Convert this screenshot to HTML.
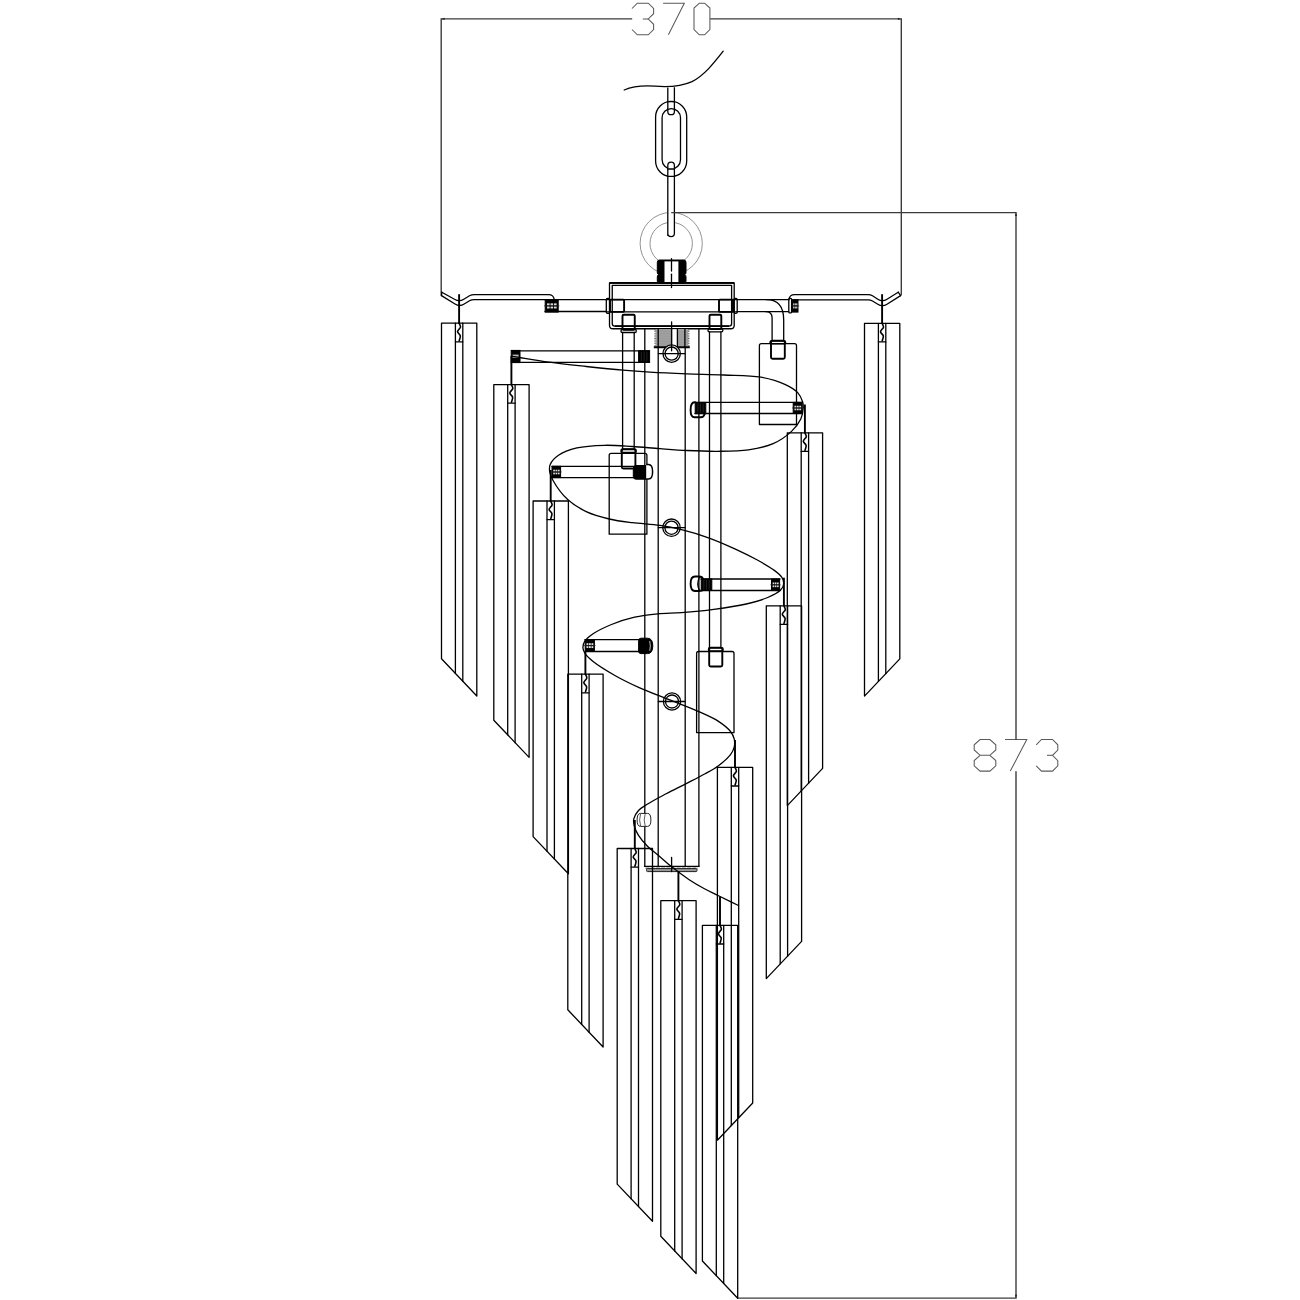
<!DOCTYPE html>
<html><head><meta charset="utf-8"><title>Chandelier drawing</title>
<style>
html,body{margin:0;padding:0;background:#fff;}
body{width:1300px;height:1300px;overflow:hidden;font-family:"Liberation Sans",sans-serif;}
svg{display:block;}
.k{fill:none;stroke:#000;stroke-width:1.3;stroke-linejoin:round;stroke-linecap:round;}
.k2{fill:none;stroke:#000;stroke-width:1.9;stroke-linecap:butt;}
.kb{fill:#000;stroke:#000;stroke-width:1;}
.d{fill:none;stroke:#3c3c3c;stroke-width:1.4;}
.z{fill:none;stroke:#000;stroke-width:1.6;stroke-linecap:round;}
.t{fill:none;stroke:#5a5a5a;stroke-width:1.05;stroke-linejoin:miter;}
.g{fill:none;stroke:#777;stroke-width:0.8;}
.g2{fill:none;stroke:#333;stroke-width:0.8;}
.gf{fill:#999;stroke:#333;stroke-width:0.8;}
.w{fill:#fff;stroke:none;}
.kw{fill:#fff;stroke:#000;stroke-width:1.3;}
</style></head><body>
<svg width="1300" height="1300" viewBox="0 0 1300 1300">
<polyline class="t" points="632,8.5 637.3,3.2 648.3,3.2 653.6,8.5 653.6,13.7 648.3,19 653.6,24.3 653.6,29.5 648.3,34.8 637.3,34.8 632,29.5"/>
<polyline class="t" points="648.3,19 642.8,19"/>
<polyline class="t" points="663.1,3.2 684.3,3.2 668.4,34.8"/>
<polygon class="t" points="699.3,3.2 704.6,3.2 709.9,8.1 709.9,29.5 704.6,34.8 699.3,34.8 694,29.5 694,8.1"/>
<polygon class="t" points="980.1,739.5 989.9,739.5 995.8,744.8 995.8,750 989.9,755.3 980.1,755.3 974.2,750 974.2,744.8"/>
<polyline class="t" points="989.9,755.3 995.8,760.6 995.8,765.8 989.9,771.1 980.1,771.1 974.2,765.8 974.2,760.6 980.1,755.3"/>
<polyline class="t" points="1005,739.5 1026.8,739.5 1010.3,771.1"/>
<polyline class="t" points="1036.2,744.8 1041.5,739.5 1052.5,739.5 1057.8,744.8 1057.8,750 1052.5,755.3 1057.8,760.6 1057.8,765.8 1052.5,771.1 1041.5,771.1 1036.2,765.8"/>
<polyline class="t" points="1052.5,755.3 1047,755.3"/>
<path class="k" d="M624.2,90 C632,86.6 643,85.4 655,86.2 C666,87.1 679,87.4 692,81.6 C704,75.6 714,63 723.2,51.2"/>
<circle class="g" cx="671.2" cy="243.5" r="31.1"/>
<circle class="g" cx="671.2" cy="243.5" r="21.2"/>
<path class="kw" d="M667.8,87.6 V111.4 A3.3,3.3 0 0 0 674.4,111.4 V87.2"/>
<rect class="k" x="655.6" y="101.4" width="31.1" height="75.1" rx="15.55"/>
<rect class="k" x="662.1" y="108.6" width="18.4" height="60.4" rx="9.2"/>
<line class="k" x1="667.8" y1="101.6" x2="674.4" y2="101.6"/>
<path class="kw" d="M667.8,236 V165.4 A3.3,3.3 0 0 1 674.4,165.4 V233.3 A3.3,3.3 0 0 1 667.8,233.3"/>
<line class="k" x1="667.8" y1="169" x2="674.4" y2="169"/>
<line class="k" x1="667.8" y1="176.4" x2="674.4" y2="176.4"/>
<path class="kb" d="M659.4,260 H684 Q686,260 686,262.5 V272.6 Q686,274.2 684.8,274.6 Q686,275.2 686,277 V281.2 Q686,283.4 683.6,283.4 H659.8 Q657.3,283.4 657.3,281.2 V277 Q657.3,275.2 658.5,274.6 Q657.3,274.2 657.3,272.6 V262.5 Q657.3,260 659.4,260 Z"/>
<rect class="w" x="664.5" y="261.4" width="13.9" height="21"/>
<line class="k" x1="671.5" y1="258.7" x2="671.5" y2="271"/>
<line class="k" x1="671.5" y1="274.2" x2="671.5" y2="287.6"/>
<polyline class="d" points="441.2,295.6 441.2,18.9 632.2,18.9"/>
<polyline class="d" points="710.2,18.9 901.3,18.9 901.3,295.2"/>
<polyline class="d" points="671.2,212.6 1016,212.6 1016,739.5"/>
<polyline class="d" points="1016,771.2 1016,1298.1 737.7,1298.1"/>
<polygon points="441.4,18.9 444.6,20 444.6,17.8" fill="#222"/>
<polygon points="901.1,18.9 897.9,17.8 897.9,20" fill="#222"/>
<polygon points="1016,212.8 1014.9,216 1017.1,216" fill="#222"/>
<polygon points="1016,1297.9 1017.1,1294.7 1014.9,1294.7" fill="#222"/>
<path class="k" d="M609.5,283 H734.2 V325.2 Q734.2,328.75 730.7,328.75 H613 Q609.5,328.75 609.5,325.2 Z"/>
<line class="k2" x1="609.5" y1="282.9" x2="734.2" y2="282.9"/>
<line class="k2" x1="614.8" y1="326.1" x2="729" y2="326.1"/>
<path class="k" d="M612.25,285.3 H731.6 V323.5 Q731.6,326.1 729,326.1 H614.8 Q612.25,326.1 612.25,323.5 Z"/>
<line class="k" x1="606.3" y1="299.6" x2="737" y2="299.6"/>
<line class="k" x1="606.3" y1="311.9" x2="737" y2="311.9"/>
<rect class="k2" x="610" y="299.6" width="14.1" height="12.3" rx="0.8"/>
<rect class="k2" x="719" y="299.6" width="14" height="12.3" rx="0.8"/>
<rect class="k" x="606.3" y="298.4" width="3.4" height="14.9" rx="1.2"/>
<rect class="k" x="734" y="298.4" width="3.2" height="14.9" rx="1.2"/>
<rect class="k2" x="622.5" y="314.75" width="12.25" height="14.95" rx="1.2"/>
<rect class="k" x="621" y="329.5" width="15.25" height="3" rx="1.2"/>
<line class="k" x1="622.6" y1="332.5" x2="622.6" y2="449.2"/>
<line class="k" x1="634.2" y1="332.5" x2="634.2" y2="449.2"/>
<rect class="k2" x="621.8" y="449.2" width="13.6" height="19.3" rx="1.5"/>
<rect class="k" x="621" y="449.2" width="15.2" height="3.2" rx="1.2"/>
<rect class="k2" x="709.5" y="314.8" width="11.8" height="14.2" rx="1.2"/>
<rect class="k" x="708" y="328.8" width="14.8" height="3" rx="1.2"/>
<line class="k" x1="709.5" y1="331.8" x2="709.5" y2="647.7"/>
<line class="k" x1="720.9" y1="331.8" x2="720.9" y2="647.7"/>
<rect class="k2" x="709.2" y="647.7" width="13.1" height="18.8" rx="1.5"/>
<rect class="k" x="708.5" y="647.7" width="14.6" height="3.2" rx="1.2"/>
<rect class="k2" x="771" y="340.8" width="13.8" height="17.9" rx="1.5"/>
<rect class="k" x="770" y="340.8" width="15.6" height="3" rx="1.2"/>
<line class="k" x1="644.8" y1="329.4" x2="644.8" y2="866.4"/>
<line class="k" x1="698.9" y1="329.4" x2="698.9" y2="866.4"/>
<line class="k" x1="658.2" y1="347.8" x2="658.2" y2="866.4"/>
<line class="k" x1="685.2" y1="347.8" x2="685.2" y2="866.4"/>
<line class="k" x1="644.5" y1="866.3" x2="699" y2="866.3"/>
<line x1="645.5" y1="868.2" x2="698" y2="868.2" stroke="#333" stroke-width="1" stroke-dasharray="4,1.2"/>
<rect x="646.5" y="868.6" width="50.5" height="3" rx="1" fill="#999" stroke="#222" stroke-width="1"/>
<line class="k" x1="671.6" y1="857.5" x2="671.6" y2="871.5"/>
<rect x="655.6" y="329.4" width="32.6" height="17.8" fill="#c4c4c4" stroke="none"/>
<line x1="655.6" y1="329.8" x2="688.2" y2="330.3" stroke="#7a7a7a" stroke-width="0.45"/>
<line x1="655.6" y1="330.52" x2="688.2" y2="331.02" stroke="#7a7a7a" stroke-width="0.45"/>
<line x1="655.6" y1="331.24" x2="688.2" y2="331.74" stroke="#7a7a7a" stroke-width="0.45"/>
<line x1="655.6" y1="331.96" x2="688.2" y2="332.46" stroke="#7a7a7a" stroke-width="0.45"/>
<line x1="655.6" y1="332.68" x2="688.2" y2="333.18" stroke="#7a7a7a" stroke-width="0.45"/>
<line x1="655.6" y1="333.4" x2="688.2" y2="333.9" stroke="#7a7a7a" stroke-width="0.45"/>
<line x1="655.6" y1="334.12" x2="688.2" y2="334.62" stroke="#7a7a7a" stroke-width="0.45"/>
<line x1="655.6" y1="334.84" x2="688.2" y2="335.34" stroke="#7a7a7a" stroke-width="0.45"/>
<line x1="655.6" y1="335.56" x2="688.2" y2="336.06" stroke="#7a7a7a" stroke-width="0.45"/>
<line x1="655.6" y1="336.28" x2="688.2" y2="336.78" stroke="#7a7a7a" stroke-width="0.45"/>
<line x1="655.6" y1="337" x2="688.2" y2="337.5" stroke="#7a7a7a" stroke-width="0.45"/>
<line x1="655.6" y1="337.72" x2="688.2" y2="338.22" stroke="#7a7a7a" stroke-width="0.45"/>
<line x1="655.6" y1="338.44" x2="688.2" y2="338.94" stroke="#7a7a7a" stroke-width="0.45"/>
<line x1="655.6" y1="339.16" x2="688.2" y2="339.66" stroke="#7a7a7a" stroke-width="0.45"/>
<line x1="655.6" y1="339.88" x2="688.2" y2="340.38" stroke="#7a7a7a" stroke-width="0.45"/>
<line x1="655.6" y1="340.6" x2="688.2" y2="341.1" stroke="#7a7a7a" stroke-width="0.45"/>
<line x1="655.6" y1="341.32" x2="688.2" y2="341.82" stroke="#7a7a7a" stroke-width="0.45"/>
<line x1="655.6" y1="342.04" x2="688.2" y2="342.54" stroke="#7a7a7a" stroke-width="0.45"/>
<line x1="655.6" y1="342.76" x2="688.2" y2="343.26" stroke="#7a7a7a" stroke-width="0.45"/>
<line x1="655.6" y1="343.48" x2="688.2" y2="343.98" stroke="#7a7a7a" stroke-width="0.45"/>
<line x1="655.6" y1="344.2" x2="688.2" y2="344.7" stroke="#7a7a7a" stroke-width="0.45"/>
<line x1="655.6" y1="344.92" x2="688.2" y2="345.42" stroke="#7a7a7a" stroke-width="0.45"/>
<line x1="655.6" y1="345.64" x2="688.2" y2="346.14" stroke="#7a7a7a" stroke-width="0.45"/>
<line x1="655.6" y1="346.36" x2="688.2" y2="346.86" stroke="#7a7a7a" stroke-width="0.45"/>
<rect class="w" x="672.3" y="329.4" width="4.8" height="17.6"/>
<line x1="655" y1="329.6" x2="655" y2="347.2" stroke="#444" stroke-width="1.2" stroke-dasharray="0.8,0.9"/>
<line x1="688.8" y1="329.6" x2="688.8" y2="347.2" stroke="#444" stroke-width="1.2" stroke-dasharray="0.8,0.9"/>
<line class="k" x1="658.2" y1="329.4" x2="658.2" y2="347.6"/>
<line class="k" x1="684.9" y1="329.4" x2="684.9" y2="347.6"/>
<line class="k" x1="677.4" y1="329.4" x2="677.4" y2="347.6"/>
<line class="k2" x1="653.8" y1="347.2" x2="689.8" y2="347.2"/>
<circle cx="671.65" cy="353.6" r="8.7" fill="#fff" stroke="#000" stroke-width="1.3"/>
<circle class="k" cx="671.65" cy="353.6" r="6.6"/>
<line class="k" x1="658.4" y1="353.6" x2="685" y2="353.6"/>
<circle cx="671.5" cy="527.7" r="8.7" fill="#fff" stroke="#000" stroke-width="1.3"/>
<circle class="k" cx="671.5" cy="527.7" r="6.6"/>
<line class="k" x1="658.4" y1="527.7" x2="685" y2="527.7"/>
<circle cx="672" cy="701.5" r="8.6" fill="#fff" stroke="#000" stroke-width="1.3"/>
<circle class="k" cx="672" cy="701.5" r="6.5"/>
<line class="k" x1="658.4" y1="701.5" x2="685" y2="701.5"/>
<line class="k" x1="671.6" y1="322" x2="671.6" y2="350.8"/>
<path class="k" d="M759.4,424.5 V345.6 Q759.4,343.6 761.4,343.6 H794.5 Q796.5,343.6 796.5,345.6 V424.5 Z"/>
<path class="k" d="M609.2,534.2 V455.3 Q609.2,453.3 611.2,453.3 H644.9 Q646.9,453.3 646.9,455.3 V534.2 Z"/>
<path class="k" d="M696.6,732.6 V653.5 Q696.6,651.5 698.6,651.5 H732 Q734,651.5 734,653.5 V732.6 Z"/>
<path class="k" d="M441.8,292.2 L454.5,299.2 Q459.2,302.2 463.8,299.2 L469.5,295.8 Q471.5,294.6 474.5,294.6 H548.5 Q553.6,294.6 554.3,299.6"/>
<path class="k" d="M441.5,295.6 L455,304 Q459.6,307 464.2,304 L469.5,300.8 Q471.5,299.6 474.5,299.6 H545"/>
<line class="k" x1="441.8" y1="292.2" x2="441.5" y2="295.6"/>
<line class="k" x1="545" y1="299.7" x2="606.3" y2="299.7"/>
<line class="k" x1="545" y1="311.5" x2="606.3" y2="311.5"/>
<rect class="kb" x="545.2" y="299.6" width="13" height="12.5"/>
<rect x="547.02" y="303.35" width="2.6" height="2" fill="#ddd"/>
<rect x="547.02" y="306.48" width="2.6" height="2" fill="#ddd"/>
<rect x="550.53" y="303.35" width="2.6" height="2" fill="#ddd"/>
<rect x="550.53" y="306.48" width="2.6" height="2" fill="#ddd"/>
<rect x="554.04" y="303.35" width="2.6" height="2" fill="#ddd"/>
<rect x="554.04" y="306.48" width="2.6" height="2" fill="#ddd"/>
<line x1="544" y1="305.85" x2="559.4" y2="305.85" stroke="#222" stroke-width="0.7"/>
<path class="k" d="M788.8,299.6 Q789.5,294.6 794.6,294.6 H868 Q870.5,294.6 872.5,295.8 L877.8,299.2 Q882.4,302.2 887,299.2 L898.2,292.2"/>
<path class="k" d="M797.9,299.8 H868.3 Q870.5,299.8 872.5,301 L877.8,304.2 Q882.4,307.2 887,304.2 L900.6,295.6"/>
<line class="k" x1="898.2" y1="292.2" x2="900.6" y2="295.6"/>
<line class="k" x1="737" y1="299.7" x2="788.8" y2="299.7"/>
<line class="k" x1="737" y1="311.6" x2="788.8" y2="311.6"/>
<rect class="k" x="788.8" y="298.4" width="2.8" height="14.5" rx="1"/>
<rect class="kb" x="792.4" y="299.6" width="5.6" height="12.5"/>
<rect x="793.18" y="303.35" width="1.12" height="2" fill="#ddd"/>
<rect x="793.18" y="306.48" width="1.12" height="2" fill="#ddd"/>
<rect x="794.7" y="303.35" width="1.12" height="2" fill="#ddd"/>
<rect x="794.7" y="306.48" width="1.12" height="2" fill="#ddd"/>
<rect x="796.21" y="303.35" width="1.12" height="2" fill="#ddd"/>
<rect x="796.21" y="306.48" width="1.12" height="2" fill="#ddd"/>
<line x1="791.2" y1="305.85" x2="799.2" y2="305.85" stroke="#222" stroke-width="0.7"/>
<path class="k" d="M766.5,299.7 Q783.7,299.7 783.7,320 V340.8"/>
<path class="k" d="M765.8,311.7 Q772.1,311.7 772.1,318 V340.8"/>
<polyline class="k" points="476.8,323.2 441.5,323.2 441.5,658.8 476.8,696 476.8,323.2"/>
<line class="k" x1="455.4" y1="323.2" x2="455.4" y2="673.45"/>
<line class="k" x1="462.8" y1="323.2" x2="462.8" y2="681.25"/>
<line class="k" x1="455.4" y1="341.8" x2="462.8" y2="341.8"/>
<line class="k2" x1="459.1" y1="294.2" x2="459.1" y2="323.7"/>
<path class="z" d="M459.1,323.2 C459.57,324.47 460.65,325.71 460.5,327 C460.33,328.5 457.49,330.1 457.5,331.6 C457.51,333.03 460.01,334.27 460.3,335.8 C460.59,337.34 459.57,339.13 459.2,340.8"/>
<polyline class="k" points="529.1,384.6 493.8,384.6 493.8,720.2 529.1,757.4 529.1,384.6"/>
<line class="k" x1="507.7" y1="384.6" x2="507.7" y2="734.85"/>
<line class="k" x1="515.1" y1="384.6" x2="515.1" y2="742.65"/>
<line class="k" x1="507.7" y1="403.2" x2="515.1" y2="403.2"/>
<line class="k2" x1="511.4" y1="356" x2="511.4" y2="385.1"/>
<path class="z" d="M511.4,384.6 C511.87,385.87 512.95,387.11 512.8,388.4 C512.63,389.9 509.79,391.5 509.8,393 C509.81,394.43 512.31,395.67 512.6,397.2 C512.89,398.74 511.87,400.53 511.5,402.2"/>
<polyline class="k" points="568.4,501 533.1,501 533.1,836.6 568.4,873.8 568.4,501"/>
<line class="k" x1="547" y1="501" x2="547" y2="851.25"/>
<line class="k" x1="554.4" y1="501" x2="554.4" y2="859.05"/>
<line class="k" x1="547" y1="519.6" x2="554.4" y2="519.6"/>
<line class="k2" x1="550.7" y1="470" x2="550.7" y2="501.5"/>
<path class="z" d="M550.7,501 C551.17,502.27 552.25,503.51 552.1,504.8 C551.93,506.3 549.09,507.9 549.1,509.4 C549.11,510.83 551.61,512.07 551.9,513.6 C552.19,515.14 551.17,516.93 550.8,518.6"/>
<polyline class="k" points="603.1,674.2 567.8,674.2 567.8,1009.8 603.1,1047 603.1,674.2"/>
<line class="k" x1="581.7" y1="674.2" x2="581.7" y2="1024.45"/>
<line class="k" x1="589.1" y1="674.2" x2="589.1" y2="1032.25"/>
<line class="k" x1="581.7" y1="692.8" x2="589.1" y2="692.8"/>
<line class="k2" x1="585.4" y1="652" x2="585.4" y2="674.7"/>
<path class="z" d="M585.4,674.2 C585.87,675.47 586.95,676.71 586.8,678 C586.63,679.5 583.79,681.1 583.8,682.6 C583.81,684.03 586.31,685.27 586.6,686.8 C586.89,688.34 585.87,690.13 585.5,691.8"/>
<polyline class="k" points="652.5,848.5 617.2,848.5 617.2,1184.1 652.5,1221.3 652.5,848.5"/>
<line class="k" x1="631.1" y1="848.5" x2="631.1" y2="1198.75"/>
<line class="k" x1="638.5" y1="848.5" x2="638.5" y2="1206.55"/>
<line class="k" x1="631.1" y1="867.1" x2="638.5" y2="867.1"/>
<line class="k2" x1="634.8" y1="820" x2="634.8" y2="849"/>
<path class="z" d="M634.8,848.5 C635.27,849.77 636.35,851.01 636.2,852.3 C636.03,853.8 633.19,855.4 633.2,856.9 C633.21,858.33 635.71,859.57 636,861.1 C636.29,862.64 635.27,864.43 634.9,866.1"/>
<polyline class="k" points="696.1,900.7 660.8,900.7 660.8,1236.3 696.1,1273.5 696.1,900.7"/>
<line class="k" x1="674.7" y1="900.7" x2="674.7" y2="1250.95"/>
<line class="k" x1="682.1" y1="900.7" x2="682.1" y2="1258.75"/>
<line class="k" x1="674.7" y1="919.3" x2="682.1" y2="919.3"/>
<line class="k2" x1="678.4" y1="871" x2="678.4" y2="901.2"/>
<path class="z" d="M678.4,900.7 C678.87,901.97 679.95,903.21 679.8,904.5 C679.63,906 676.79,907.6 676.8,909.1 C676.81,910.53 679.31,911.77 679.6,913.3 C679.89,914.84 678.87,916.63 678.5,918.3"/>
<polyline class="k" points="737.7,925.4 702.4,925.4 702.4,1261 737.7,1298.2 737.7,925.4"/>
<line class="k" x1="716.3" y1="925.4" x2="716.3" y2="1275.65"/>
<line class="k" x1="723.7" y1="925.4" x2="723.7" y2="1283.45"/>
<line class="k" x1="716.3" y1="944" x2="723.7" y2="944"/>
<line class="k2" x1="720" y1="896.5" x2="720" y2="925.9"/>
<path class="z" d="M720,925.4 C720.47,926.67 721.55,927.91 721.4,929.2 C721.23,930.7 718.39,932.3 718.4,933.8 C718.41,935.23 720.91,936.47 721.2,938 C721.49,939.54 720.47,941.33 720.1,943"/>
<polyline class="k" points="899.8,323.3 864.5,323.3 864.5,696.1 899.8,658.9 899.8,323.3"/>
<line class="k" x1="878.4" y1="323.3" x2="878.4" y2="681.45"/>
<line class="k" x1="885.8" y1="323.3" x2="885.8" y2="673.65"/>
<line class="k" x1="878.4" y1="341.9" x2="885.8" y2="341.9"/>
<line class="k2" x1="882.1" y1="294.2" x2="882.1" y2="323.8"/>
<path class="z" d="M882.1,323.3 C882.57,324.57 883.65,325.81 883.5,327.1 C883.33,328.6 880.49,330.2 880.5,331.7 C880.51,333.13 883.01,334.37 883.3,335.9 C883.59,337.44 882.57,339.23 882.2,340.9"/>
<polyline class="k" points="822.6,432.8 787.3,432.8 787.3,805.6 822.6,768.4 822.6,432.8"/>
<line class="k" x1="801.2" y1="432.8" x2="801.2" y2="790.95"/>
<line class="k" x1="808.6" y1="432.8" x2="808.6" y2="783.15"/>
<line class="k" x1="801.2" y1="451.4" x2="808.6" y2="451.4"/>
<line class="k2" x1="804.9" y1="404.5" x2="804.9" y2="433.3"/>
<path class="z" d="M804.9,432.8 C805.37,434.07 806.45,435.31 806.3,436.6 C806.13,438.1 803.29,439.7 803.3,441.2 C803.31,442.63 805.81,443.87 806.1,445.4 C806.39,446.94 805.37,448.73 805,450.4"/>
<polyline class="k" points="801.6,605.8 766.3,605.8 766.3,978.6 801.6,941.4 801.6,605.8"/>
<line class="k" x1="780.2" y1="605.8" x2="780.2" y2="963.95"/>
<line class="k" x1="787.6" y1="605.8" x2="787.6" y2="956.15"/>
<line class="k" x1="780.2" y1="624.4" x2="787.6" y2="624.4"/>
<line class="k2" x1="783.9" y1="577.7" x2="783.9" y2="606.3"/>
<path class="z" d="M783.9,605.8 C784.37,607.07 785.45,608.31 785.3,609.6 C785.13,611.1 782.29,612.7 782.3,614.2 C782.31,615.63 784.81,616.87 785.1,618.4 C785.39,619.94 784.37,621.73 784,623.4"/>
<polyline class="k" points="752.7,767.4 717.4,767.4 717.4,1140.2 752.7,1103 752.7,767.4"/>
<line class="k" x1="731.3" y1="767.4" x2="731.3" y2="1125.55"/>
<line class="k" x1="738.7" y1="767.4" x2="738.7" y2="1117.75"/>
<line class="k" x1="731.3" y1="786" x2="738.7" y2="786"/>
<line class="k2" x1="735" y1="740" x2="735" y2="767.9"/>
<path class="z" d="M735,767.4 C735.47,768.67 736.55,769.91 736.4,771.2 C736.23,772.7 733.39,774.3 733.4,775.8 C733.41,777.23 735.91,778.47 736.2,780 C736.49,781.54 735.47,783.33 735.1,785"/>
<line class="k" x1="511.5" y1="350.8" x2="649.5" y2="350.8"/>
<line class="k" x1="511.5" y1="362.3" x2="649.5" y2="362.3"/>
<rect class="kb" x="638.6" y="350.8" width="11" height="11.5"/>
<line x1="641.35" y1="351.8" x2="641.35" y2="361.3" stroke="#444" stroke-width="0.5"/>
<line x1="644.1" y1="351.8" x2="644.1" y2="361.3" stroke="#444" stroke-width="0.5"/>
<line x1="646.85" y1="351.8" x2="646.85" y2="361.3" stroke="#444" stroke-width="0.5"/>
<rect class="kb" x="511.2" y="350.4" width="8.8" height="12.2"/>
<rect x="512.6" y="354.6" width="6" height="3.2" fill="#bbb"/>
<line class="k" x1="552" y1="466.3" x2="634" y2="466.3"/>
<line class="k" x1="552" y1="477.6" x2="634" y2="477.6"/>
<rect class="kb" x="552" y="466.3" width="8.6" height="11.3"/>
<rect x="553.2" y="469.69" width="1.72" height="1.81" fill="#ddd"/>
<rect x="553.2" y="472.52" width="1.72" height="1.81" fill="#ddd"/>
<rect x="555.53" y="469.69" width="1.72" height="1.81" fill="#ddd"/>
<rect x="555.53" y="472.52" width="1.72" height="1.81" fill="#ddd"/>
<rect x="557.85" y="469.69" width="1.72" height="1.81" fill="#ddd"/>
<rect x="557.85" y="472.52" width="1.72" height="1.81" fill="#ddd"/>
<line x1="550.8" y1="471.95" x2="561.8" y2="471.95" stroke="#222" stroke-width="0.7"/>
<path class="kb" d="M636,465.5 H646.5 V479.2 H636 Q633.3,479.2 633.3,476.5 V468.2 Q633.3,465.5 636,465.5 Z"/>
<path d="M646.2,464.6 H648.5 Q652.6,464.6 652.6,471.8 Q652.6,479 648.5,479 H646.2" fill="#fff" stroke="#000" stroke-width="1.5"/>
<line class="k" x1="695" y1="402.3" x2="802.2" y2="402.3"/>
<line class="k" x1="695" y1="413.5" x2="802.2" y2="413.5"/>
<rect class="kb" x="695.2" y="402.4" width="10.6" height="11.2"/>
<line x1="697.85" y1="403.4" x2="697.85" y2="412.6" stroke="#444" stroke-width="0.5"/>
<line x1="700.5" y1="403.4" x2="700.5" y2="412.6" stroke="#444" stroke-width="0.5"/>
<line x1="703.15" y1="403.4" x2="703.15" y2="412.6" stroke="#444" stroke-width="0.5"/>
<path class="k2" d="M695.8,402.3 H694.6 Q690.6,402.3 690.6,409.9 Q690.6,417.3 694.6,417.3 H700.6 Q703.8,417.3 704.8,413.8"/>
<rect class="kb" x="793.2" y="402.4" width="9" height="11.1"/>
<rect x="794.46" y="405.73" width="1.8" height="1.78" fill="#ddd"/>
<rect x="794.46" y="408.5" width="1.8" height="1.78" fill="#ddd"/>
<rect x="796.89" y="405.73" width="1.8" height="1.78" fill="#ddd"/>
<rect x="796.89" y="408.5" width="1.8" height="1.78" fill="#ddd"/>
<rect x="799.32" y="405.73" width="1.8" height="1.78" fill="#ddd"/>
<rect x="799.32" y="408.5" width="1.8" height="1.78" fill="#ddd"/>
<line x1="792" y1="407.95" x2="803.4" y2="407.95" stroke="#222" stroke-width="0.7"/>
<line class="k" x1="701" y1="579" x2="780" y2="579"/>
<line class="k" x1="701" y1="590.5" x2="780" y2="590.5"/>
<rect class="kb" x="701.2" y="579" width="10.6" height="11.5"/>
<line x1="703.85" y1="580" x2="703.85" y2="589.5" stroke="#444" stroke-width="0.5"/>
<line x1="706.5" y1="580" x2="706.5" y2="589.5" stroke="#444" stroke-width="0.5"/>
<line x1="709.15" y1="580" x2="709.15" y2="589.5" stroke="#444" stroke-width="0.5"/>
<path class="k2" d="M703.2,579.2 Q702.4,576.5 699,576.5 H695 Q690.6,576.5 690.6,583.8 Q690.6,591 695,591 H699 Q702.4,591 703.2,589.8"/>
<path class="k" d="M699.4,577.2 Q696.2,583.8 699.4,590.4"/>
<rect class="kb" x="771.5" y="579" width="8.1" height="11.5"/>
<rect x="772.63" y="582.45" width="1.62" height="1.84" fill="#ddd"/>
<rect x="772.63" y="585.33" width="1.62" height="1.84" fill="#ddd"/>
<rect x="774.82" y="582.45" width="1.62" height="1.84" fill="#ddd"/>
<rect x="774.82" y="585.33" width="1.62" height="1.84" fill="#ddd"/>
<rect x="777.01" y="582.45" width="1.62" height="1.84" fill="#ddd"/>
<rect x="777.01" y="585.33" width="1.62" height="1.84" fill="#ddd"/>
<line x1="770.3" y1="584.75" x2="780.8" y2="584.75" stroke="#222" stroke-width="0.7"/>
<line class="k" x1="585" y1="639.6" x2="640" y2="639.6"/>
<line class="k" x1="585" y1="651.5" x2="640" y2="651.5"/>
<rect class="kb" x="585.2" y="639.6" width="9.2" height="11.9"/>
<rect x="586.49" y="643.17" width="1.84" height="1.9" fill="#ddd"/>
<rect x="586.49" y="646.14" width="1.84" height="1.9" fill="#ddd"/>
<rect x="588.97" y="643.17" width="1.84" height="1.9" fill="#ddd"/>
<rect x="588.97" y="646.14" width="1.84" height="1.9" fill="#ddd"/>
<rect x="591.46" y="643.17" width="1.84" height="1.9" fill="#ddd"/>
<rect x="591.46" y="646.14" width="1.84" height="1.9" fill="#ddd"/>
<line x1="584" y1="645.55" x2="595.6" y2="645.55" stroke="#222" stroke-width="0.7"/>
<path class="kb" d="M641,638.2 H647.5 Q652.8,638.2 652.8,645.9 Q652.8,653.6 647.5,653.6 H641 Q638.6,653.6 638.6,651 V640.8 Q638.6,638.2 641,638.2 Z"/>
<path d="M649.6,641 Q651.2,645.9 649.6,650.8" fill="none" stroke="#999" stroke-width="1.2"/>
<path d="M640.5,813.4 H647.6 Q650.9,813.4 650.9,819.9 Q650.9,826.4 647.6,826.4 H640.5 Q637.1,826.4 637.1,819.9 Q637.1,813.4 640.5,813.4 Z" fill="#fff" stroke="#222" stroke-width="1"/>
<path class="g2" d="M640.6,813.8 Q638.6,819.9 640.6,826"/>
<path class="g2" d="M645.2,813.8 Q643.2,819.9 645.2,826"/>
<path class="k" d="M512.3,356.4 C524.6,358.33 536.87,360.52 549.2,362.2 C561.51,363.88 573.88,365.16 586.2,366.5 C598.48,367.83 611.67,369.23 623,370.2 C632.69,371.03 640.29,371.54 650,372.1 C661.34,372.76 674.6,373.32 686.9,373.8 C699.2,374.28 711.5,374.43 723.8,375 C736.13,375.57 749.82,375.25 760.8,377.2 C769.94,378.82 778.78,381.53 785.4,384.6 C790.4,386.92 794.77,389.41 797.7,392.6 C800.17,395.29 801.74,398.96 802.6,401.8 C803.26,404 803.34,405.65 803.2,408 C803.01,411.18 802.46,415.48 800.8,419.1 C798.87,423.31 795.52,427.61 791.5,431.4 C786.69,435.94 779.97,440.66 773.1,443.7 C765.75,446.95 757.23,448.52 748.5,449.8 C738.87,451.21 727.97,451.18 717.7,451.3 C707.44,451.42 696.81,450.96 686.9,450.5 C677.63,450.07 669.03,449.36 660,448.7 C650.83,448.03 641.54,447.07 632.3,446.5 C623.07,445.93 613.83,445.07 604.6,445.3 C595.36,445.53 585.07,445.92 576.9,447.9 C570.01,449.57 563.16,452.04 558.5,455.3 C554.81,457.87 551.53,461.36 550.2,464.5 C549.17,466.93 549.32,469.4 549.7,471.9 C550.11,474.63 551.11,477 552.9,480.2 C555.86,485.49 561.97,494.29 567.7,499.6 C573.15,504.65 579.47,508.4 586.2,511.6 C593.25,514.95 601.45,517.14 609.2,519 C616.82,520.83 624.23,521.66 632.3,522.7 C641.1,523.83 651.38,524.12 660,525.4 C667.65,526.53 673.97,527.82 681.5,529.7 C690.04,531.83 699.59,534.6 708.5,537.8 C717.56,541.05 726.99,545.25 735.4,549.1 C743.03,552.6 750.3,556.19 756.9,559.8 C762.75,563 768.67,566.26 773.1,569.5 C776.56,572.03 779.94,574.42 781.7,577.1 C783.05,579.15 783.95,581.39 783.8,583.5 C783.65,585.69 782.46,588.01 780.6,590 C777.93,592.86 772.69,595.33 767.7,597.5 C761.58,600.16 754.17,602.14 746.2,604 C736.57,606.25 724.62,607.96 713.8,609.4 C703.05,610.83 691.45,611.86 681.5,612.6 C672.97,613.24 665.56,613.03 657.7,613.8 C649.92,614.57 642.23,615.44 634.6,617.2 C626.83,618.99 618.65,621.58 611.5,624.5 C604.9,627.19 597.87,630.55 593.1,633.8 C589.6,636.19 586.47,638.57 584.8,641.2 C583.51,643.24 582.86,645.54 582.9,647.6 C582.94,649.54 583.61,651.29 584.8,653.2 C586.47,655.89 589.43,658.56 593.1,661.5 C598.7,665.99 608.39,671.8 616.2,676.2 C623.76,680.46 631.05,683.93 639.2,687.6 C648.12,691.62 657.9,695.23 667.7,699.2 C678.13,703.42 690.79,708.07 700,712.2 C707.09,715.38 713.18,717.91 718.5,721.4 C723.14,724.44 727.83,728.12 730.5,731.5 C732.44,733.96 733.58,736.29 734.2,738.9 C734.82,741.52 734.82,744.58 734.2,747.2 C733.58,749.81 732.4,752.06 730.5,754.6 C727.82,758.16 722.83,762.46 718.5,765.7 C714.19,768.92 709.6,771.21 704.6,774 C698.94,777.16 692.47,780.37 686.2,783.6 C679.68,786.96 672.71,790.35 666.2,793.8 C659.89,797.15 652.73,800.85 647.7,804 C644.03,806.3 640.86,807.9 638.5,810.5 C636.33,812.9 634.43,816.02 633.8,818.8 C633.24,821.25 633.66,823.66 634.3,826.2 C635.05,829.17 636.57,832.32 638.5,835.4 C640.81,839.08 644.32,843.12 647.7,846.5 C651.08,849.88 654.98,852.47 658.8,855.7 C662.95,859.21 667,863.05 671.7,866.8 C677.02,871.04 683.52,875.93 689.2,879.7 C694.25,883.05 699.09,885.82 704,888.5 C708.68,891.06 712.88,892.97 718,895.5 C724.18,898.55 731.67,902.17 738.5,905.5"/>
</svg></body></html>
